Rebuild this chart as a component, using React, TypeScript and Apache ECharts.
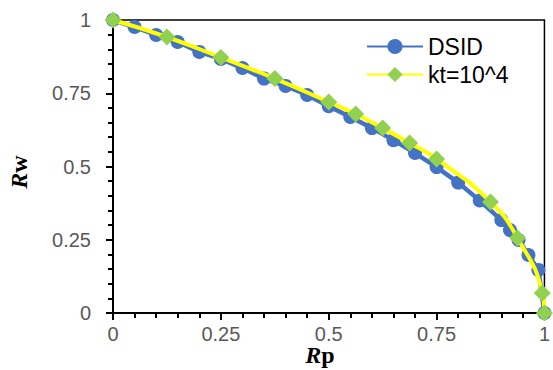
import React, { useEffect, useRef } from "react";
import * as echarts from "echarts";

const rpDsid = [0, 0.05, 0.1, 0.15, 0.2, 0.25, 0.3, 0.35, 0.4, 0.45, 0.5, 0.55, 0.6, 0.65, 0.7, 0.75, 0.8, 0.85, 0.9, 0.92, 0.94, 0.963, 0.986, 1];
const rwDsid = [1, 0.976, 0.949, 0.925, 0.891, 0.867, 0.836, 0.8, 0.775, 0.744, 0.706, 0.669, 0.631, 0.59, 0.546, 0.498, 0.445, 0.384, 0.317, 0.283, 0.249, 0.198, 0.147, 0];

const rpKt = [0, 0.125, 0.25, 0.375, 0.5, 0.5625, 0.625, 0.6875, 0.75, 0.875, 0.9375, 0.995, 1];
const rwKt = [1, 0.942, 0.872, 0.8, 0.72, 0.679, 0.631, 0.58, 0.526, 0.379, 0.256, 0.068, 0];

const seriesNames = ["DSID", "kt=10^4"];

export default function App() {
  const ref = useRef<HTMLDivElement>(null);
  useEffect(() => {
    document.body.style.margin = "0";
    if (!ref.current) return;
    const chart = echarts.init(ref.current, undefined, { renderer: "svg" });
    const labelFont = "'Liberation Sans', Arial, sans-serif";
    const serif = "'Liberation Serif', 'DejaVu Serif', serif";
    chart.setOption({
      animation: false,
      backgroundColor: "#ffffff",
      grid: {
        left: 113,
        right: 5,
        top: 20,
        bottom: 57,
        show: true,
        borderColor: "#000000",
        borderWidth: 1.5,
      },
      legend: {
        orient: "vertical",
        left: 361,
        top: 30,
        itemWidth: 56,
        itemHeight: 19,
        itemGap: 5,
        data: seriesNames,
        textStyle: { fontSize: 23, color: "#000000", fontFamily: labelFont },
      },
      xAxis: {
        type: "value",
        min: 0,
        max: 1,
        interval: 0.25,
        axisLine: { lineStyle: { color: "#000000", width: 2 } },
        axisTick: { show: true, length: 7, lineStyle: { color: "#000000", width: 2 } },
        minorTick: { show: true, splitNumber: 5, length: 5, lineStyle: { color: "#000000", width: 2 } },
        splitLine: { show: false },
        axisLabel: { color: "#595959", fontSize: 20, fontFamily: labelFont, margin: 11 },
      },
      yAxis: {
        type: "value",
        min: 0,
        max: 1,
        interval: 0.25,
        axisLine: { show: true, lineStyle: { color: "#000000", width: 2 } },
        axisTick: { show: true, length: 7, lineStyle: { color: "#000000", width: 2 } },
        minorTick: { show: true, splitNumber: 5, length: 5, lineStyle: { color: "#000000", width: 2 } },
        splitLine: { show: false },
        axisLabel: { color: "#595959", fontSize: 20, fontFamily: labelFont, margin: 22 },
      },
      graphic: [
        {
          type: "text",
          x: 19,
          y: 172,
          rotation: Math.PI / 2,
          style: {
            text: "{i|R}{b|w}",
            align: "center",
            verticalAlign: "middle",
            rich: {
              i: { fontSize: 24, fontWeight: "bold", fontStyle: "italic", fontFamily: serif, fill: "#000000" },
              b: { fontSize: 24, fontWeight: "bold", fontFamily: serif, fill: "#000000" },
            },
          },
        },
        {
          type: "text",
          x: 320,
          y: 355,
          style: {
            text: "{i|R}{b|p}",
            align: "center",
            verticalAlign: "middle",
            rich: {
              i: { fontSize: 24, lineHeight: 20, fontWeight: "bold", fontStyle: "italic", fontFamily: serif, fill: "#000000" },
              b: { fontSize: 24, lineHeight: 20, fontWeight: "bold", fontFamily: serif, fill: "#000000" },
            },
          },
        },
      ],
      series: [
        {
          name: seriesNames[0],
          type: "line",
          data: rpDsid.map((x, i) => [x, rwDsid[i]]),
          symbol: "circle",
          symbolSize: 14,
          itemStyle: { color: "#4472C4" },
          lineStyle: { color: "#4472C4", width: 4.5 },
          z: 2,
        },
        {
          name: seriesNames[1],
          type: "line",
          data: rpKt.map((x, i) => [x, rwKt[i]]),
          symbol: "diamond",
          symbolSize: 17,
          smooth: 0.5,
          itemStyle: { color: "#92D050" },
          lineStyle: { color: "#FFFF00", width: 4 },
          z: 3,
        },
      ],
    });
    return () => chart.dispose();
  }, []);
  return <div ref={ref} style={{ width: 553, height: 370 }} />;
}
